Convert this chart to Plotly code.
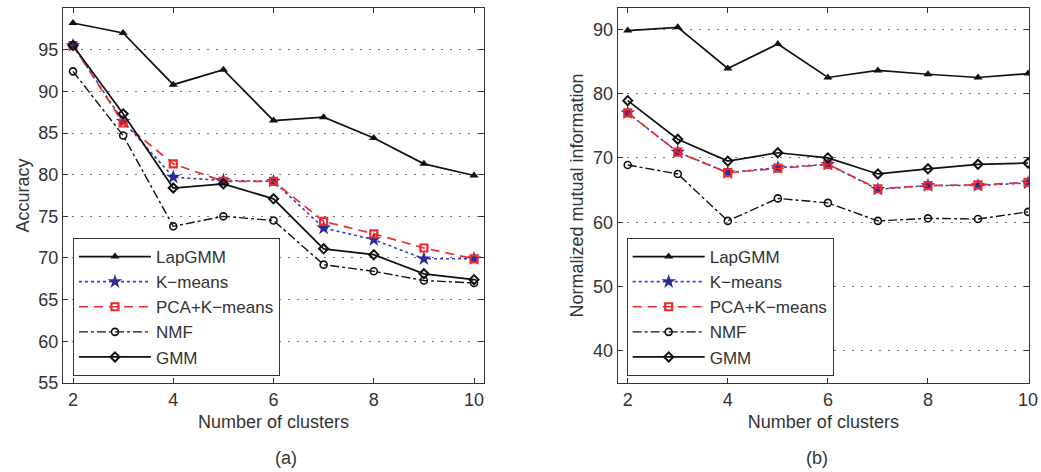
import plotly.graph_objects as go

clusters = [2, 3, 4, 5, 6, 7, 8, 9, 10]
methods = ["LapGMM", "K\u2212means", "PCA+K\u2212means", "NMF", "GMM"]

acc_lapgmm = [98.2, 97.0, 90.8, 92.6, 86.5, 86.9, 84.4, 81.3, 79.9]
acc_kmeans = [95.5, 86.4, 79.7, 79.3, 79.2, 73.6, 72.2, 69.9, 69.9]
acc_pca = [95.5, 86.2, 81.3, 79.2, 79.2, 74.4, 72.9, 71.2, 69.9]
acc_nmf = [92.4, 84.7, 73.8, 75.0, 74.5, 69.2, 68.4, 67.3, 67.0]
acc_gmm = [95.5, 87.3, 78.4, 78.9, 77.1, 71.1, 70.4, 68.1, 67.4]

nmi_lapgmm = [89.8, 90.3, 83.9, 87.7, 82.5, 83.6, 83.0, 82.5, 83.1]
nmi_kmeans = [77.0, 70.9, 67.7, 68.5, 69.0, 65.1, 65.7, 65.7, 66.1]
nmi_pca = [77.0, 70.9, 67.7, 68.4, 69.0, 65.2, 65.7, 65.8, 66.2]
nmi_nmf = [68.9, 67.5, 60.2, 63.7, 63.0, 60.2, 60.6, 60.5, 61.6]
nmi_gmm = [78.9, 72.9, 69.5, 70.8, 70.0, 67.5, 68.3, 69.0, 69.2]

acc_ticks = [55, 60, 65, 70, 75, 80, 85, 90, 95]
nmi_ticks = [40, 50, 60, 70, 80, 90]
x_ticks = [2, 4, 6, 8, 10]

styles = [
    dict(line=dict(color="#111111", width=1.7, dash="solid"),
         marker=dict(symbol="triangle-up", size=8, color="#111111")),
    dict(line=dict(color="#3c3cc8", width=1.6, dash="dot"),
         marker=dict(symbol="star", size=11, color="#2a2a9a")),
    dict(line=dict(color="#ee2a2a", width=1.7, dash="9px,6px"),
         marker=dict(symbol="square-open", size=7, color="#ee2a2a", line=dict(width=2.2, color="#ee2a2a"))),
    dict(line=dict(color="#111111", width=1.4, dash="dashdot"),
         marker=dict(symbol="circle-open", size=7, color="#111111", line=dict(width=1.6, color="#111111"))),
    dict(line=dict(color="#111111", width=1.7, dash="solid"),
         marker=dict(symbol="diamond-open", size=7, color="#111111", line=dict(width=2, color="#111111"))),
]

fig = go.Figure()
acc_series = [acc_lapgmm, acc_kmeans, acc_pca, acc_nmf, acc_gmm]
nmi_series = [nmi_lapgmm, nmi_kmeans, nmi_pca, nmi_nmf, nmi_gmm]
for name, ys, st in zip(methods, acc_series, styles):
    fig.add_trace(go.Scatter(x=clusters, y=ys, name=name, mode="lines+markers",
                             xaxis="x", yaxis="y", legend="legend", **st))
for name, ys, st in zip(methods, nmi_series, styles):
    fig.add_trace(go.Scatter(x=clusters, y=ys, name=name, mode="lines+markers",
                             xaxis="x2", yaxis="y2", legend="legend2", **st))

font_family = "Liberation Sans, Arial, sans-serif"
FS = 18
axis_common = dict(showline=True, linecolor="#333333", linewidth=1, mirror="ticks",
                   ticks="inside", ticklen=5, tickcolor="#333333", automargin=False,
                   tickfont=dict(size=FS, color="#333333", family=font_family),
                   zeroline=False)
grid_common = dict(showgrid=True, gridcolor="#777777", griddash="2px,7px", gridwidth=1)

leg_common = dict(xanchor="left", yanchor="bottom", bgcolor="white",
                  bordercolor="#333333", borderwidth=1, font=dict(size=17, family=font_family),
                  itemwidth=72, tracegroupgap=0)

fig.update_layout(
    template="none",
    width=1041, height=472,
    margin=dict(l=0, r=0, t=0, b=0),
    paper_bgcolor="white", plot_bgcolor="white",
    font=dict(family=font_family, color="#333333", size=FS),
    xaxis=dict(domain=[0.0605, 0.465], range=[1.8, 10.2], tickvals=x_ticks, showgrid=False,
               anchor="y", title=dict(text="Number of clusters", font=dict(size=FS), standoff=6),
               **axis_common),
    yaxis=dict(domain=[0.1886, 0.983], range=[55, 100], tickvals=acc_ticks, anchor="x",
               title=dict(text="Accuracy", font=dict(size=FS), standoff=4),
               **grid_common, **axis_common),
    xaxis2=dict(domain=[0.5934, 0.9885], range=[1.8, 10.02], tickvals=x_ticks, showgrid=False,
                anchor="y2", title=dict(text="Number of clusters", font=dict(size=FS), standoff=6),
                **axis_common),
    yaxis2=dict(domain=[0.1886, 0.983], range=[35, 93.3], tickvals=nmi_ticks, anchor="x2",
                title=dict(text="Normalized mutual information", font=dict(size=FS), standoff=4),
                **grid_common, **axis_common),
    legend=dict(x=0.0701, y=0.2034, **leg_common),
    legend2=dict(x=0.602, y=0.2034, **leg_common),
    annotations=[
        dict(text="(a)", x=0.2625, y=0.0297, xref="paper", yref="paper", showarrow=False,
             yanchor="middle", font=dict(size=FS, family=font_family)),
        dict(text="(b)", x=0.797, y=0.0297, xref="paper", yref="paper", showarrow=False,
             yanchor="middle", font=dict(size=FS, family=font_family)),
    ],
)

fig.write_html("out.html")
